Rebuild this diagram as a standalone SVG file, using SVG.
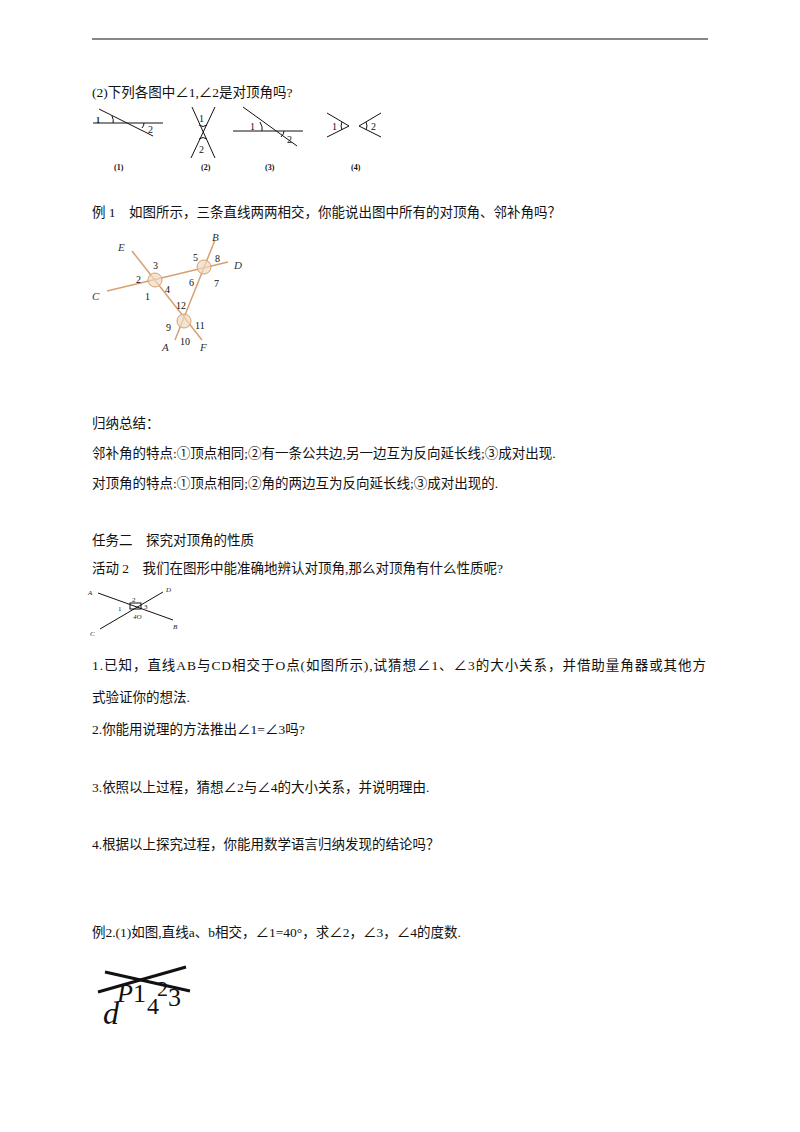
<svg xmlns="http://www.w3.org/2000/svg" width="800" height="1132" viewBox="0 0 800 1132">
<style>
.t{font-family:"Liberation Serif","Noto Sans CJK SC",serif;font-size:13.5px;fill:#111}
.s{font-family:"Liberation Serif",serif;font-size:10px;fill:#111}
.b{font-family:"Liberation Serif",serif;font-size:8px;font-weight:bold;fill:#111}
.i{font-family:"Liberation Serif",serif;font-size:11px;font-style:italic;fill:#333}
.k{stroke:#111;stroke-width:1;fill:none}
.o{stroke:#d8a070;stroke-width:1.5;fill:none}
</style>
<rect width="800" height="1132" fill="#fff"/>
<line x1="92" y1="39" x2="708" y2="39" stroke="#111" stroke-width="1.2"/>
<text class="t" x="92" y="97">(2)下列各图中∠1,∠2是对顶角吗?</text>
<g id="fig1">
<line class="k" x1="93" y1="123" x2="163" y2="123"/><line class="k" x1="99" y1="109" x2="153" y2="136"/>
<path class="k" d="M112 116 Q114 120 113 123 M142 128 Q144 126 144 123"/>
<text class="b" x="96" y="123">1</text><text class="s" x="148" y="133">2</text>
<text class="b" x="114" y="170">(1)</text>
<line class="k" x1="192" y1="107" x2="215" y2="158"/><line class="k" x1="215" y1="107" x2="191" y2="158"/>
<path class="k" d="M199 125 Q203 128 207 125 M199 139 Q203 136 207 139"/>
<text class="s" x="199" y="122">1</text><text class="s" x="199" y="153">2</text>
<text class="b" x="201" y="170">(2)</text>
<line class="k" x1="233" y1="131" x2="303" y2="131"/><line class="k" x1="243" y1="107" x2="297" y2="146"/>
<path class="k" d="M260 122 Q263 127 262 131 M281 137 Q284 134 284 131"/>
<text class="s" x="250" y="130">1</text><text class="s" x="287" y="143">2</text>
<text class="b" x="265" y="170">(3)</text>
<polyline class="k" points="327,113 349,126 327,137"/><polyline class="k" points="381,113 359,126 381,137"/>
<path class="k" d="M342 122 Q340 126 342 130 M366 122 Q368 126 366 130"/>
<text class="s" x="332" y="130">1</text><text class="s" x="371" y="130">2</text>
<text class="b" x="351" y="170">(4)</text>
</g>
<text class="t" x="92" y="217">例 1　如图所示，三条直线两两相交，你能说出图中所有的对顶角、邻补角吗？</text>
<g id="fig2">
<line class="o" x1="107" y1="291" x2="228" y2="262"/>
<line class="o" x1="132" y1="251" x2="202" y2="340"/>
<line class="o" x1="215" y1="240" x2="175" y2="340"/>
<circle cx="155" cy="280" r="7" fill="#f0d8c0" fill-opacity="0.7" stroke="#d8a070"/>
<circle cx="204" cy="267" r="7" fill="#f0d8c0" fill-opacity="0.7" stroke="#d8a070"/>
<circle cx="184" cy="321" r="7" fill="#f0d8c0" fill-opacity="0.7" stroke="#d8a070"/>
<text class="i" x="118" y="251">E</text><text class="i" x="212" y="241">B</text><text class="i" x="234" y="269">D</text>
<text class="i" x="92" y="300">C</text><text class="i" x="162" y="351">A</text><text class="i" x="200" y="351">F</text>
<text class="s" x="136" y="283">2</text><text class="s" x="153" y="269">3</text><text class="s" x="165" y="293">4</text><text class="s" x="145" y="300">1</text>
<text class="s" x="193" y="261">5</text><text class="s" x="215" y="262">8</text><text class="s" x="189" y="286">6</text><text class="s" x="214" y="287">7</text>
<text class="s" x="176" y="309">12</text><text class="s" x="166" y="331">9</text><text class="s" x="195" y="329">11</text><text class="s" x="180" y="345">10</text>
</g>
<text class="t" x="92" y="428">归纳总结：</text>
<text class="t" x="92" y="458">邻补角的特点:①顶点相同;②有一条公共边,另一边互为反向延长线;③成对出现.</text>
<text class="t" x="92" y="488">对顶角的特点:①顶点相同;②角的两边互为反向延长线;③成对出现的.</text>
<text class="t" x="92" y="545">任务二　探究对顶角的性质</text>
<text class="t" x="92" y="573">活动 2　我们在图形中能准确地辨认对顶角,那么对顶角有什么性质呢?</text>
<g id="fig3">
<line class="k" x1="98" y1="593" x2="173" y2="620" stroke-width="0.8"/>
<line class="k" x1="100" y1="629" x2="163" y2="592" stroke-width="0.8"/>
<rect x="130" y="603" width="11" height="6" class="k" stroke-width="0.7"/>
<g font-family="Liberation Serif,serif" font-size="7" font-style="italic" fill="#222">
<text x="88" y="595">A</text><text x="166" y="592">D</text><text x="90" y="636">C</text><text x="173" y="629">B</text>
<text x="132" y="602" font-style="normal">2</text><text x="118" y="611" font-style="normal">1</text><text x="144" y="609" font-style="normal">3</text><text x="133" y="619">4O</text>
</g>
</g>
<text class="t" x="92" y="670" textLength="614">1.已知，直线AB与CD相交于O点(如图所示),试猜想∠1、∠3的大小关系，并借助量角器或其他方</text>
<text class="t" x="92" y="702">式验证你的想法.</text>
<text class="t" x="92" y="734">2.你能用说理的方法推出∠1=∠3吗?</text>
<text class="t" x="92" y="792">3.依照以上过程，猜想∠2与∠4的大小关系，并说明理由.</text>
<text class="t" x="92" y="849">4.根据以上探究过程，你能用数学语言归纳发现的结论吗？</text>
<text class="t" x="92" y="937">例2.(1)如图,直线a、b相交，∠1=40°，求∠2，∠3，∠4的度数.</text>
<g id="fig4" font-family="Liberation Serif,serif" fill="#111">
<line x1="105" y1="972" x2="190" y2="991" stroke="#111" stroke-width="3"/>
<line x1="98" y1="992" x2="186" y2="967" stroke="#111" stroke-width="3"/>
<text x="103" y="1024" font-size="32" font-style="italic">d</text>
<text x="117" y="1002" font-size="26" font-style="italic">P</text>
<text x="133" y="1002" font-size="26">1</text>
<text x="147" y="1014" font-size="24">4</text>
<text x="157" y="996" font-size="22">2</text>
<text x="168" y="1006" font-size="26">3</text>
</g>
</svg>
